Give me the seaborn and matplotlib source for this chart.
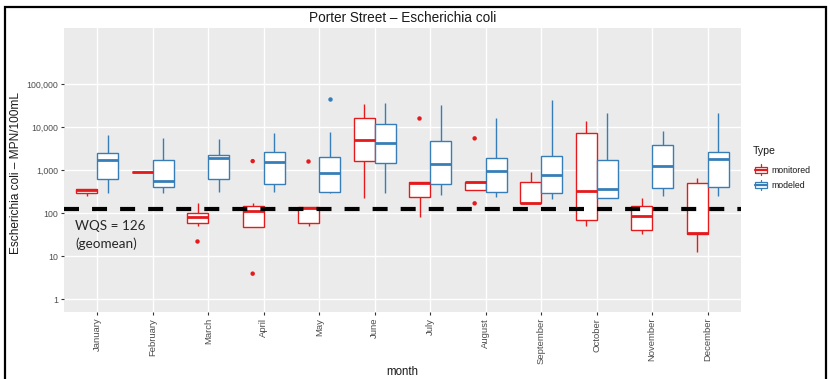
import numpy as np
import pandas as pd
import matplotlib
matplotlib.use("Agg")
import matplotlib.pyplot as plt
from matplotlib.patches import Rectangle
from matplotlib.lines import Line2D
from matplotlib.legend_handler import HandlerBase
import seaborn as sns

# ---- data (MPN/100mL) ----
months = ["January", "February", "March", "April", "May", "June",
          "July", "August", "September", "October", "November", "December"]
types = ["monitored", "modeled"]

# monitored: whisker low, Q1, median, Q3, whisker high
mon_low = [245, 900, 50.6, 47, 48.9, 220, 79, 351, 168, 50.6, 32.9, 12.7]
mon_q1 = [290, 900, 59.4, 47, 59.4, 1637, 240, 351, 168, 68.7, 39.4, 32.4]
mon_med = [345, 900, 80.7, 109, 128, 4980, 493, 520, 175, 321, 86.6, 34]
mon_q3 = [365, 900, 102, 148, 135, 16500, 530, 539, 539, 7110, 148, 493]
mon_high = [365, 900, 168, 171, 135, 35100, 530, 539, 906, 13800, 220, 656]

# modeled: whisker low, Q1, median, Q3, whisker high
mod_low = [288, 288, 303, 309, 288, 293, 258, 232, 212, 228, 254, 254]
mod_q1 = [611, 404, 611, 467, 309, 1420, 467, 309, 293, 228, 390, 404]
mod_med = [1725, 558, 1923, 1524, 859, 4300, 1393, 940, 757, 370, 1250, 1758]
mod_q3 = [2520, 1725, 2260, 2655, 1995, 11960, 4800, 1853, 2143, 1725, 3800, 2655]
mod_high = [6380, 5430, 5150, 7110, 7640, 36300, 32700, 15900, 42700, 20800, 8070, 21200]

# points beyond the whiskers
out_month = ["March", "April", "April", "May", "May", "July", "August", "August"]
out_type = ["monitored", "monitored", "monitored", "monitored", "modeled",
            "monitored", "monitored", "monitored"]
out_value = [22.6, 3.9, 1607, 1607, 45800, 16200, 5430, 168]

wqs = 126
ytick_vals = [1, 10, 100, 1000, 10000, 100000]
ytick_labels = ["1", "10", "100", "1,000", "10,000", "100,000"]

colors = {"monitored": "#E41A1C", "modeled": "#377EB8"}

# ---- long table of box values ----
rows = []
for stats, t in [((mon_low, mon_q1, mon_med, mon_q3, mon_high), "monitored"),
                 ((mod_low, mod_q1, mod_med, mod_q3, mod_high), "modeled")]:
    for i, m in enumerate(months):
        for s in stats:
            rows.append({"month": m, "Type": t, "value": s[i]})
df = pd.DataFrame(rows)
out_df = pd.DataFrame({"month": out_month, "Type": out_type, "value": out_value})

# ---- style ----
sns.set_style("darkgrid", {"axes.facecolor": "#EBEBEB", "grid.color": "white"})
plt.rcParams["font.family"] = ["Liberation Sans", "DejaVu Sans"]
plt.rcParams["lines.scale_dashes"] = False

W, H = 830, 379
fig = plt.figure(figsize=(W / 100, H / 100), dpi=100)
fig.patch.set_facecolor("white")
px, py = 1 / W, 1 / H
ax = fig.add_axes([64 * px, 1 - 312 * py, (741 - 64) * px, (312 - 28) * py])

for t in types:
    sub = df[df["Type"] == t]
    sns.boxplot(data=sub, x="month", y="value", hue="Type",
                order=months, hue_order=types, dodge=True,
                palette={k: "white" for k in types}, linecolor=colors[t],
                fill=True, width=0.75, gap=0, whis=np.inf, log_scale=True,
                linewidth=1.0, showcaps=False,
                medianprops=dict(linewidth=2.0),
                legend=False, ax=ax)

sns.stripplot(data=out_df, x="month", y="value", hue="Type",
              order=months, hue_order=types, palette=colors,
              dodge=True, jitter=False, size=3.2, linewidth=0,
              legend=False, ax=ax, zorder=4)

# water quality standard
wl = ax.axhline(wqs, color="black", linewidth=3.0, zorder=6)
wl.set_dashes((10.8, 9.4))
fig.text(75 * px, 1 - 220 * py, "WQS = 126\n(geomean)", ha="left", va="top",
         fontsize=9.7, family=["Lato", "DejaVu Sans"], linespacing=1.5)

ax.set_yscale("log")
ax.set_ylim(10 ** -0.3, 10 ** 6.3)
ax.set_xlim(-0.6, 11.6)
ax.set_yticks(ytick_vals)
ax.set_yticklabels(ytick_labels)
ax.yaxis.set_minor_locator(matplotlib.ticker.NullLocator())
ax.set_xticks(range(len(months)))
ax.set_xticklabels(months, rotation=90)
ax.tick_params(axis="both", length=2.2, width=0.8, color="#333333",
               labelcolor="#4D4D4D", pad=2, bottom=True, left=True)
ax.tick_params(axis="y", labelsize=6.3)
ax.tick_params(axis="x", labelsize=6.8)
ax.grid(True, which="major", color="white", linewidth=1.0)
ax.set_axisbelow(True)
ax.set_xlabel("")
ax.set_ylabel("")
for s in ax.spines.values():
    s.set_visible(False)

# titles and axis labels
fig.text(403 * px, 1 - 18 * py, "Porter Street \u2013 Escherichia coli",
         ha="center", va="center", fontsize=9.8, color="#1A1A1A")
fig.text(16 * px, 1 - 173 * py, "Escherichia coli \u2013 MPN/100mL", rotation=90,
         ha="center", va="center", fontsize=8.6, color="#1A1A1A")
fig.text(402 * px, 1 - 372 * py, "month", ha="center", va="center",
         fontsize=8.3, color="#1A1A1A")


# legend with small box glyph keys
class BoxKey(HandlerBase):
    def create_artists(self, legend, orig_handle, xdescent, ydescent,
                       width, height, fontsize, trans):
        c = orig_handle.get_color()
        x0, y0 = -xdescent, -ydescent
        cx = x0 + width / 2
        arts = [
            Line2D([cx, cx], [y0, y0 + height], color=c, lw=0.9, transform=trans),
            Rectangle((x0 + width * 0.1, y0 + height * 0.22), width * 0.8, height * 0.56,
                      facecolor="white", edgecolor=c, lw=0.9, transform=trans),
            Line2D([x0 + width * 0.1, x0 + width * 0.9], [y0 + height / 2] * 2,
                   color=c, lw=1.6, transform=trans),
        ]
        return arts


handles = [Line2D([], [], color=colors[t]) for t in types]
leg = fig.legend(handles, types, handler_map={Line2D: BoxKey()},
                 loc="upper left", bbox_to_anchor=(753 * px, 1 - 146 * py),
                 title="Type", frameon=False, fontsize=6.3, title_fontsize=7.6,
                 handlelength=1.8, handleheight=1.5, labelspacing=0.55,
                 handletextpad=0.3, borderpad=0, borderaxespad=0,
                 alignment="left")
leg.get_title().set_color("#1A1A1A")
for txt in leg.get_texts():
    txt.set_color("#1A1A1A")
leg._legend_box.sep = 6

# frame around the figure
fig.add_artist(Rectangle((5 * px, -0.05), (826 - 5) * px, 1 - 7 * py + 0.05,
                         transform=fig.transFigure, fill=False,
                         edgecolor="black", linewidth=1.6))

fig.savefig("out.png", dpi=100)
